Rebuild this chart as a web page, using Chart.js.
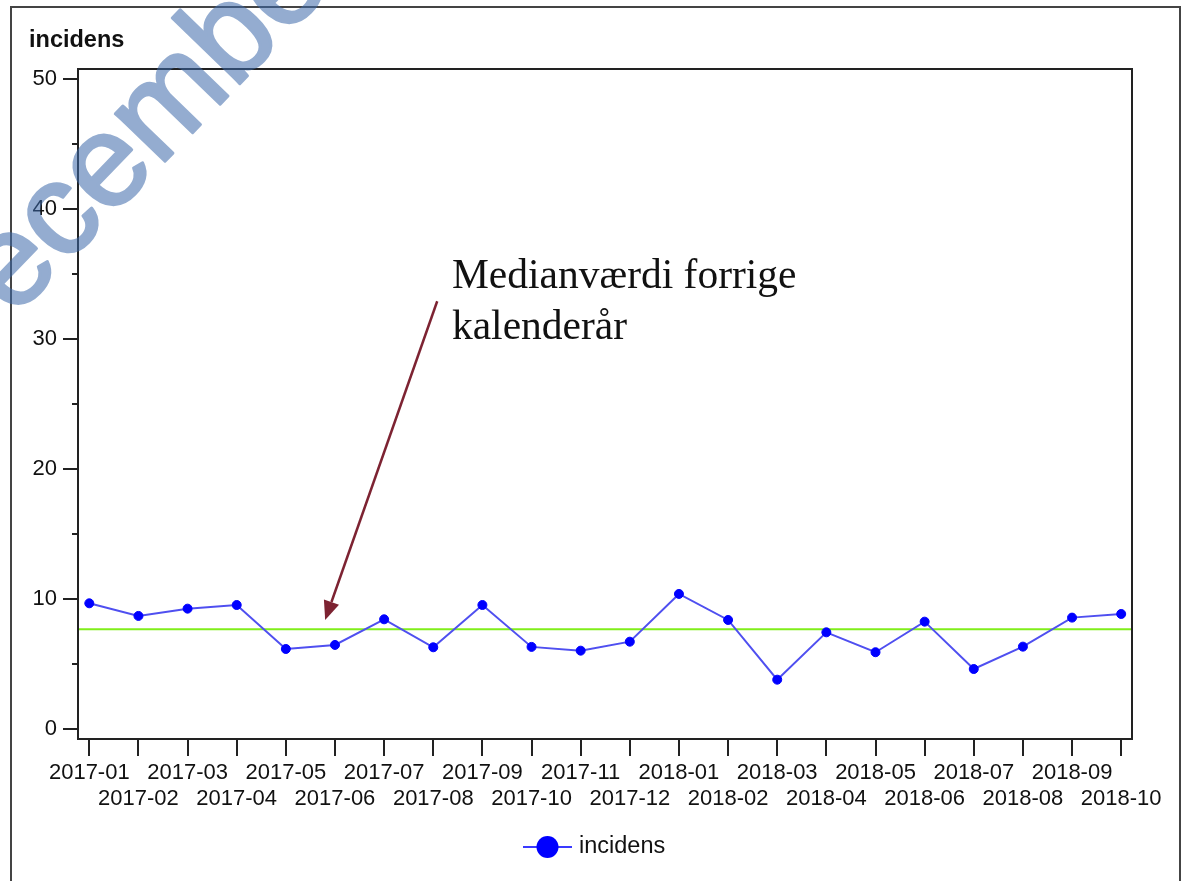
<!DOCTYPE html>
<html>
<head>
<meta charset="utf-8">
<script src="https://cdn.jsdelivr.net/npm/chart.js@4"></script>
<style>
  html, body { margin: 0; padding: 0; background: #fff; }
  #wrap { width: 1190px; height: 881px; }
</style>
</head>
<body>
<div id="wrap"><canvas id="incChart" width="1190" height="881"></canvas></div>
<script>
// data
const months = ['2017-01', '2017-02', '2017-03', '2017-04', '2017-05', '2017-06', '2017-07', '2017-08',
    '2017-09', '2017-10', '2017-11', '2017-12', '2018-01', '2018-02', '2018-03', '2018-04',
    '2018-05', '2018-06', '2018-07', '2018-08', '2018-09', '2018-10'];
const incidens = [9.68, 8.71, 9.27, 9.55, 6.17, 6.48, 8.45, 6.30, 9.55, 6.33, 6.04, 6.73,
    10.40, 8.40, 3.81, 7.45, 5.92, 8.27, 4.63, 6.35, 8.58, 8.86];
const medianPrevYear = 7.69;
const yTickValues = [0, 5, 10, 15, 20, 25, 30, 35, 40, 45, 50];
const seriesName = 'incidens';
const noteLines = ['Medianværdi forrige', 'kalenderår'];
const watermark = 'December';

// annotation anchors in data units
const arrowTip = { x: 4.8, y: 8.4 };
const arrowTail = { x: 7.08, y: 32.9 };
const noteAnchor = { x: 7.38, y: 33.9 };

const decorPlugin = {
    id: 'decor',
    beforeDatasetsDraw(chart) {
        const { ctx, chartArea, scales } = chart;
        const y = scales.y.getPixelForValue(medianPrevYear);
        ctx.save();
        ctx.strokeStyle = '#80ee1a';
        ctx.lineWidth = 2;
        ctx.beginPath();
        ctx.moveTo(chartArea.left, y);
        ctx.lineTo(chartArea.right, y);
        ctx.stroke();
        ctx.restore();
    },
    afterDraw(chart) {
        const { ctx, chartArea, scales } = chart;
        const xs = scales.x, ys = scales.y;
        ctx.save();

        // plot box
        ctx.strokeStyle = '#222';
        ctx.lineWidth = 2;
        ctx.strokeRect(chartArea.left, chartArea.top, chartArea.right - chartArea.left, chartArea.bottom - chartArea.top);

        // tick marks
        ctx.beginPath();
        ys.ticks.forEach(t => {
            const py = Math.round(ys.getPixelForValue(t.value));
            const len = t.value % 10 === 0 ? 15 : 6;
            ctx.moveTo(chartArea.left - len, py);
            ctx.lineTo(chartArea.left, py);
        });
        xs.ticks.forEach(t => {
            const px = Math.round(xs.getPixelForValue(t.value));
            ctx.moveTo(px, chartArea.bottom);
            ctx.lineTo(px, chartArea.bottom + 17);
        });
        ctx.stroke();

        // axis title
        ctx.fillStyle = '#111';
        ctx.font = 'bold 23.5px "Liberation Sans", Arial, sans-serif';
        ctx.textAlign = 'left';
        ctx.textBaseline = 'middle';
        ctx.fillText(seriesName, 29, 41);

        // legend
        const lx = 523, ly = 847;
        ctx.strokeStyle = '#3a3aff';
        ctx.lineWidth = 2;
        ctx.beginPath();
        ctx.moveTo(lx, ly);
        ctx.lineTo(lx + 49, ly);
        ctx.stroke();
        ctx.fillStyle = '#0000ff';
        ctx.beginPath();
        ctx.arc(lx + 24.5, ly, 11, 0, Math.PI * 2);
        ctx.fill();
        ctx.fillStyle = '#111';
        ctx.font = '23.5px "Liberation Sans", Arial, sans-serif';
        ctx.fillText(seriesName, lx + 56, ly);

        // arrow
        const tx = xs.getPixelForValue(arrowTip.x), ty = ys.getPixelForValue(arrowTip.y);
        const sx = xs.getPixelForValue(arrowTail.x), sy = ys.getPixelForValue(arrowTail.y);
        const ang = Math.atan2(ty - sy, tx - sx);
        const headLen = 19, headW = 8;
        const bx = tx - headLen * Math.cos(ang), by = ty - headLen * Math.sin(ang);
        ctx.strokeStyle = '#7d2332';
        ctx.fillStyle = '#7d2332';
        ctx.lineWidth = 2.5;
        ctx.beginPath();
        ctx.moveTo(sx, sy);
        ctx.lineTo(bx, by);
        ctx.stroke();
        ctx.beginPath();
        ctx.moveTo(tx, ty);
        ctx.lineTo(bx + headW * Math.sin(ang), by - headW * Math.cos(ang));
        ctx.lineTo(bx - headW * Math.sin(ang), by + headW * Math.cos(ang));
        ctx.closePath();
        ctx.fill();

        // note text
        ctx.fillStyle = '#111';
        ctx.font = '41.5px "Liberation Serif", "Times New Roman", serif';
        ctx.textBaseline = 'alphabetic';
        const nx = xs.getPixelForValue(noteAnchor.x), ny = ys.getPixelForValue(noteAnchor.y);
        noteLines.forEach((line, i) => ctx.fillText(line, nx, ny + i * 51));

        // outer frame
        ctx.strokeStyle = '#444';
        ctx.lineWidth = 2;
        ctx.strokeRect(11, 7, 1169, 900);
        ctx.restore();

        // watermark, drawn opaque off-screen then laid over semi-transparent
        const off = document.createElement('canvas');
        off.width = chart.width;
        off.height = chart.height;
        const oc = off.getContext('2d');
        oc.translate(-52, 386);
        oc.rotate(-46 * Math.PI / 180);
        oc.font = '130px "Liberation Sans", Arial, sans-serif';
        oc.fillStyle = '#3c69aa';
        oc.strokeStyle = '#3c69aa';
        oc.lineWidth = 3;
        oc.lineJoin = 'round';
        oc.fillText(watermark, 0, 0);
        oc.strokeText(watermark, 0, 0);
        ctx.save();
        ctx.globalAlpha = 0.55;
        ctx.drawImage(off, 0, 0);
        ctx.restore();
    }
};

new Chart(document.getElementById('incChart').getContext('2d'), {
    type: 'line',
    data: {
        datasets: [{
            label: seriesName,
            data: incidens.map((v, i) => ({ x: i, y: v })),
            borderColor: '#4f4ff0',
            borderWidth: 2,
            pointBackgroundColor: '#0000ff',
            pointBorderColor: '#0000ff',
            pointRadius: 4.5,
            pointBorderWidth: 1,
            tension: 0,
            fill: false
        }]
    },
    options: {
        responsive: false,
        animation: false,
        events: [],
        layout: { padding: { top: 69, right: 58, bottom: 0, left: 0 } },
        plugins: {
            legend: { display: false },
            title: { display: false },
            tooltip: { enabled: false }
        },
        scales: {
            x: {
                type: 'linear',
                min: -0.23,
                max: 21.22,
                grid: { display: false, drawTicks: false },
                border: { display: false },
                afterBuildTicks: scale => { scale.ticks = months.map((m, i) => ({ value: i })); },
                afterFit: scale => { scale.height = 142; },
                ticks: {
                    autoSkip: false,
                    maxRotation: 0,
                    minRotation: 0,
                    padding: 21,
                    color: '#111',
                    font: { family: '"Liberation Sans", Arial, sans-serif', size: 22, lineHeight: 1.165 },
                    callback: v => {
                        const i = Math.round(v);
                        return i % 2 === 0 ? months[i] : ['', months[i]];
                    }
                }
            },
            y: {
                min: -0.75,
                max: 50.75,
                grid: { display: false, drawTicks: false },
                border: { display: false },
                afterBuildTicks: scale => { scale.ticks = yTickValues.map(v => ({ value: v })); },
                afterFit: scale => { scale.width = 78; },
                ticks: {
                    padding: 21,
                    color: '#111',
                    font: { family: '"Liberation Sans", Arial, sans-serif', size: 22 },
                    callback: v => (v % 10 === 0 ? String(v) : '')
                }
            }
        }
    },
    plugins: [decorPlugin]
});
</script>
</body>
</html>
